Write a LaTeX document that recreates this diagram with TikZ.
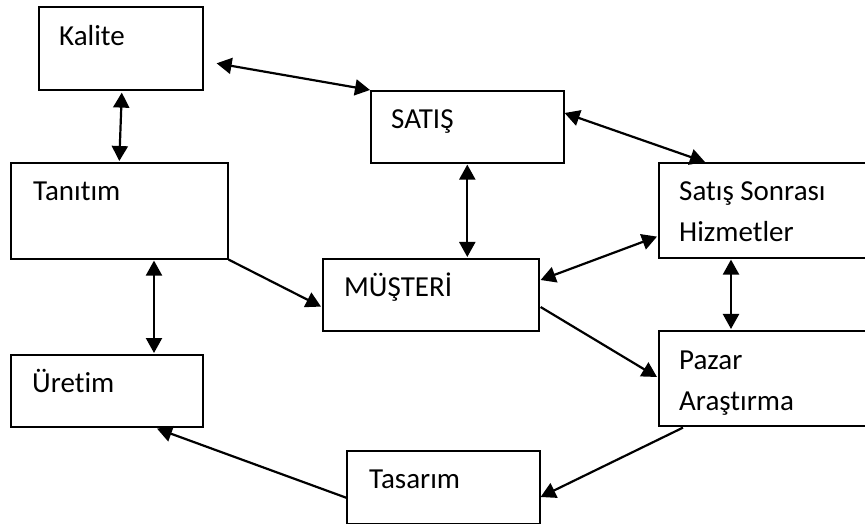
\documentclass[tikz,border=0pt]{standalone}
\usepackage{fontspec}
\setmainfont{Carlito}[Ligatures=CommonOff]
\usetikzlibrary{arrows.meta,calc}
\tikzset{
  box/.style={draw=black, line width=1.6bp, inner sep=0pt, anchor=north west},
  lbl/.style={anchor=base west, inner sep=0pt, font=\fontsize{29bp}{34bp}\selectfont},
  dbl/.style={line width=2.2bp, {Triangle[length=15bp,width=16bp]}-{Triangle[length=15bp,width=16bp]}},
  sgl/.style={line width=2.2bp, -{Triangle[length=15bp,width=16bp]}}
}
\begin{document}
\begin{tikzpicture}[x=1bp,y=-1bp]
\useasboundingbox (0,0) rectangle (865,524);
\clip (0,0) rectangle (865,524);
% boxes
\node[box, minimum width=164bp, minimum height=83bp] (kal) at (38,6) {};
\node[box, minimum width=193bp, minimum height=72bp] (sat) at (370,90) {};
\node[box, minimum width=217bp, minimum height=96bp] (tan) at (10,162) {};
\node[box, minimum width=230bp, minimum height=95bp] (ssh) at (658,162) {};
\node[box, minimum width=216bp, minimum height=72bp] (mus) at (322,258) {};
\node[box, minimum width=192bp, minimum height=72bp] (ure) at (10,354) {};
\node[box, minimum width=230bp, minimum height=95bp] (paz) at (658,330) {};
\node[box, minimum width=193bp, minimum height=73bp] (tas) at (346,450) {};
% labels
\node[lbl] (tkal) at (59,46) {Kalite};
\node[lbl] (tsat) at (391,129) {SATIŞ};
\node[lbl] (ttan) at (33,201) {Tanıtım};
\node[lbl] (tssh1) at (679,201) {Satış Sonrası};
\node[lbl] (tssh2) at (679,242) {Hizmetler};
\node[lbl] (tmus) at (344,297) {MÜŞTERİ};
\node[lbl] (ture) at (32,392) {Üretim};
\node[lbl] (tpaz1) at (679,369) {Pazar};
\node[lbl] (tpaz2) at (679,410) {Araştırma};
\node[lbl] (ttas) at (369,488) {Tasarım};
% connectors
\draw[dbl] ($(kal.east)+(13,15)$) -- (sat.north west);
\draw[dbl] ($(kal.south)+(1,2)$) -- ($(tan.north)+(0,-1)$);
\draw[dbl] ($(sat.north east)+(0,23)$) -- ($(ssh.north west)+(47,0)$);
\draw[dbl] ($(sat.south)+(0,1)$) -- ($(sat.south |- mus.north)+(0,-1)$);
\draw[dbl] ($(mus.north east)+(1,22)$) -- ($(ssh.south west)+(-1,-22)$);
\draw[dbl] ($(ssh.south west)+(73,1)$) -- ($(paz.north west)+(73,-1)$);
\draw[sgl] (tan.south east) -- ($(mus.south west)+(-1,-25)$);
\draw[sgl] ($(mus.north east)+(1,49)$) -- ($(paz.north west)+(-1,47)$);
\draw[dbl] ($(tan.south west)+(144,1)$) -- ($(ure.north west)+(144,-1)$);
\draw[sgl] ($(paz.south west)+(25,1)$) -- ($(tas.north east)+(0,47)$);
\draw[sgl] ($(tas.north west)+(1,48)$) -- ($(ure.south west)+(147,1)$);
\end{tikzpicture}
\end{document}
